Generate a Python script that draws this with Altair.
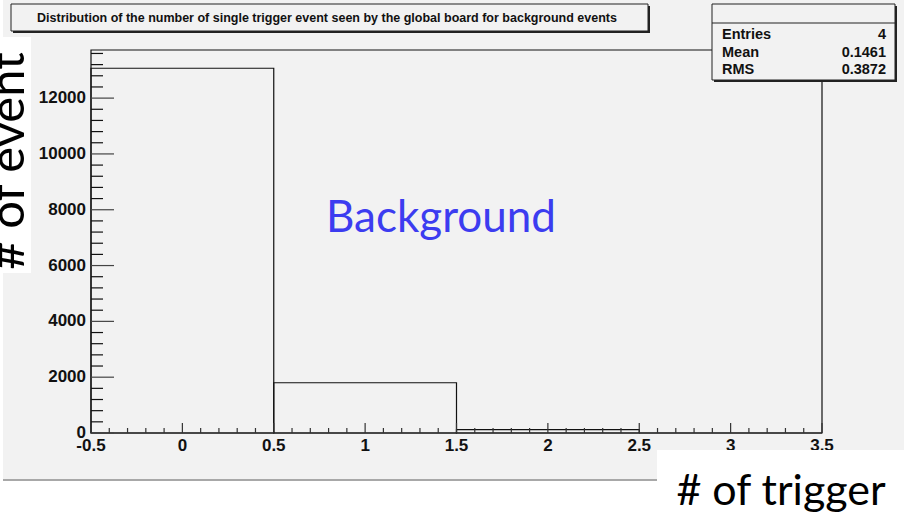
import altair as alt
import pandas as pd

# ---- data ----
bin_lo = [-0.5, 0.5, 1.5, 2.5]
bin_hi = [0.5, 1.5, 2.5, 3.5]
counts = [13070, 1800, 122, 0]

x_major = [-0.5, 0.0, 0.5, 1.0, 1.5, 2.0, 2.5, 3.0, 3.5]
x_labels = ["-0.5", "0", "0.5", "1", "1.5", "2", "2.5", "3", "3.5"]
x_minor = [round(-0.5 + 0.1 * i, 2) for i in range(41) if i % 5 != 0]
y_major = [0, 2000, 4000, 6000, 8000, 10000, 12000]
y_labels = ["0", "2000", "4000", "6000", "8000", "10000", "12000"]
y_minor = [400 * i for i in range(1, 35) if (400 * i) % 2000 != 0]

title_text = "Distribution of the number of single trigger event seen by the global board for background events"
stat_names = ["Entries", "Mean", "RMS"]
stat_values = ["4", "0.1461", "0.3872"]

W, H = 731, 383
Y_MAX = 13724

hist_df = pd.DataFrame({"lo": bin_lo, "hi": bin_hi, "n": counts})
one = pd.DataFrame({"a": [0]})

XS = alt.Scale(domain=[-0.5, 3.5], nice=False, zero=False)
YS = alt.Scale(domain=[0, Y_MAX], nice=False, zero=True)

LBL = dict(font="Liberation Sans", fontWeight="bold")


def rect(x1, x2, y1, y2, **kw):
    return alt.Chart(one).mark_rect(**kw).encode(
        x=alt.value(x1), x2=alt.value(x2), y=alt.value(y1), y2=alt.value(y2)
    )


def text(t, x, y, **kw):
    return alt.Chart(one).mark_text(text=t, **kw).encode(x=alt.value(x), y=alt.value(y))


# canvas
canvas = rect(-88, 813, -50, 430, color="#f2f2f2")
canvas_line = alt.Chart(one).mark_rule(color="#a8a8a8", strokeWidth=2).encode(
    x=alt.value(-88), x2=alt.value(566), y=alt.value(430)
)
frame = rect(0, W, 0, H, filled=False, stroke="#111111", strokeWidth=1.2)

hist = alt.Chart(hist_df).mark_rect(filled=False, stroke="#111111", strokeWidth=1.2).encode(
    x=alt.X("lo:Q", scale=XS, axis=None),
    x2="hi:Q",
    y=alt.Y("n:Q", scale=YS, axis=None),
)

# inside ticks
ytick_major = alt.Chart(pd.DataFrame({"v": y_major})).mark_rule(color="#444444", strokeWidth=1.2).encode(
    y=alt.Y("v:Q", scale=YS, axis=None), x=alt.value(0), x2=alt.value(23)
)
ytick_minor = alt.Chart(pd.DataFrame({"v": y_minor})).mark_rule(color="#111111", strokeWidth=1.2).encode(
    y=alt.Y("v:Q", scale=YS, axis=None), x=alt.value(0), x2=alt.value(12)
)
xtick_major = alt.Chart(pd.DataFrame({"v": x_major})).mark_rule(color="#333333", strokeWidth=1.2).encode(
    x=alt.X("v:Q", scale=XS, axis=None), y=alt.value(H), y2=alt.value(H - 10)
)
xtick_minor = alt.Chart(pd.DataFrame({"v": x_minor})).mark_rule(color="#333333", strokeWidth=1.2).encode(
    x=alt.X("v:Q", scale=XS, axis=None), y=alt.value(H), y2=alt.value(H - 5)
)

# tick labels
xlab_ticks = alt.Chart(pd.DataFrame({"v": x_major, "t": x_labels})).mark_text(
    fontSize=17, align="center", baseline="top", color="#111111", **LBL
).encode(x=alt.X("v:Q", scale=XS, axis=None), y=alt.value(H + 5), text="t:N")
ylab_ticks = alt.Chart(pd.DataFrame({"v": y_major, "t": y_labels})).mark_text(
    fontSize=17, align="right", baseline="middle", color="#111111", **LBL
).encode(y=alt.Y("v:Q", scale=YS, axis=None), x=alt.value(-5), text="t:N")

# label boxes
ylab_box = rect(-91, -60, -13, 223, color="white")
xlab_box = rect(566, 813, 400, 464, color="white")
ylab = text("# of event", -67, 111, font="Lato", fontSize=49, angle=270, align="center",
            baseline="alphabetic", color="black")
xlab = text("# of trigger", 690, 455, font="Lato", fontSize=43, align="center",
            baseline="alphabetic", color="black")

bg_text = text("Background", 350, 182, font="Lato", fontSize=44, align="center",
               baseline="alphabetic", color="#3c3cf0")

# title box
title_shadow = rect(-78, 559, -44, -17, color="#222222")
title_box = rect(-80, 557, -46, -19, color="#f2f2f2", stroke="#222222", strokeWidth=1)
title = text(title_text, 236, -28, font="Liberation Sans", fontWeight="bold", fontSize=12.5,
             align="center", baseline="alphabetic", color="#111111")

# stats box
stats_shadow = rect(623, 806, -44, 32, color="#222222")
stats_box = rect(621, 804, -46, 30, color="#f2f2f2", stroke="#222222", strokeWidth=1)
stats_div = alt.Chart(one).mark_rule(color="#222222", strokeWidth=1).encode(
    x=alt.value(621), x2=alt.value(804), y=alt.value(-27)
)
stat_layers = []
for i, (nm, vl) in enumerate(zip(stat_names, stat_values)):
    yb = -11 + i * 17.5
    stat_layers.append(text(nm, 631, yb, align="left", baseline="alphabetic", fontSize=14.5,
                            color="#111111", **LBL))
    stat_layers.append(text(vl, 795, yb, align="right", baseline="alphabetic", fontSize=14.5,
                            color="#111111", **LBL))

chart = alt.layer(
    canvas, canvas_line, frame, hist,
    ytick_major, ytick_minor, xtick_major, xtick_minor,
    xlab_ticks, ylab_ticks,
    bg_text, ylab_box, xlab_box, ylab, xlab,
    title_shadow, title_box, title,
    stats_shadow, stats_box, stats_div, *stat_layers,
).properties(
    width=W, height=H,
    autosize=alt.AutoSizeParams(type="none"),
    padding={"left": 91, "top": 50, "right": 82, "bottom": 81},
    background="white",
).configure_view(strokeWidth=0)

chart.save("out.html", embed_options={"renderer": "svg", "actions": False})
